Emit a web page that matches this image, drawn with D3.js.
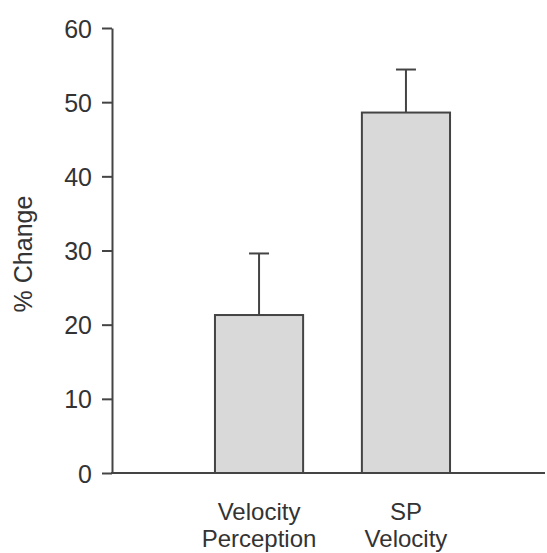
<!DOCTYPE html>
<html>
<head>
<meta charset="utf-8">
<script src="https://cdn.jsdelivr.net/npm/d3@7"></script>
<style>
  body { margin: 0; background: #fff; }
  svg text { font-family: "Liberation Sans", Arial, sans-serif; fill: #333; }
</style>
</head>
<body>
<div id="chart"></div>
<script>
const categories = [["Velocity", "Perception"], ["SP", "Velocity"]];
const values = [21.3, 48.6];
const errors = [8.3, 5.8];
const yTicks = [0, 10, 20, 30, 40, 50, 60];

const W = 547, H = 553;
const svg = d3.select("#chart").append("svg")
    .attr("width", W).attr("height", H);

const y = d3.scaleLinear().domain([0, 60]).range([473, 28]);
const x = d3.scaleBand()
    .domain(categories.map((d, i) => i))
    .range([156.2, 508.8])
    .paddingInner(0.4)
    .paddingOuter(0.4);

const stroke = "#444";

// y axis
const yAxis = svg.append("g")
    .attr("transform", "translate(112,0)")
    .call(d3.axisLeft(y).tickValues(yTicks).tickSize(10).tickSizeOuter(0).tickPadding(10));
yAxis.select(".domain").attr("stroke", stroke).attr("stroke-width", 2);
yAxis.selectAll(".tick line").attr("stroke", stroke).attr("stroke-width", 2);
yAxis.selectAll(".tick text")
    .style("font-size", "25px").attr("fill", "#333").attr("dy", "0.36em")
    .style("font-family", "'Liberation Sans', Arial, sans-serif");

// x axis line
svg.append("line")
    .attr("x1", 111).attr("x2", 545)
    .attr("y1", y(0)).attr("y2", y(0))
    .attr("stroke", stroke).attr("stroke-width", 2);

// error bars
const eb = svg.selectAll(".err").data(values).enter().append("g");
eb.append("line")
    .attr("x1", (d, i) => x(i) + x.bandwidth() / 2)
    .attr("x2", (d, i) => x(i) + x.bandwidth() / 2)
    .attr("y1", d => y(d))
    .attr("y2", (d, i) => y(d + errors[i]))
    .attr("stroke", stroke).attr("stroke-width", 2);
eb.append("line")
    .attr("x1", (d, i) => x(i) + x.bandwidth() / 2 - 10)
    .attr("x2", (d, i) => x(i) + x.bandwidth() / 2 + 10)
    .attr("y1", (d, i) => y(d + errors[i]))
    .attr("y2", (d, i) => y(d + errors[i]))
    .attr("stroke", stroke).attr("stroke-width", 2);

// bars
svg.selectAll(".bar").data(values).enter().append("rect")
    .attr("class", "bar")
    .attr("x", (d, i) => x(i))
    .attr("y", d => y(d))
    .attr("width", x.bandwidth())
    .attr("height", d => y(0) - y(d))
    .attr("fill", "#d9d9d9")
    .attr("stroke", stroke).attr("stroke-width", 2);

// category labels
const lab = svg.selectAll(".cat").data(categories).enter().append("text")
    .attr("text-anchor", "middle")
    .style("font-size", "24px");
lab.selectAll("tspan").data((d, i) => d.map(t => ({ t, i }))).enter().append("tspan")
    .attr("x", d => x(d.i) + x.bandwidth() / 2)
    .attr("y", (d, j) => 520 + j * 27)
    .text(d => d.t);

// y label
svg.append("text")
    .attr("transform", "translate(32,254) rotate(-90)")
    .attr("text-anchor", "middle")
    .style("font-size", "25px")
    .text("% Change");
</script>
</body>
</html>
